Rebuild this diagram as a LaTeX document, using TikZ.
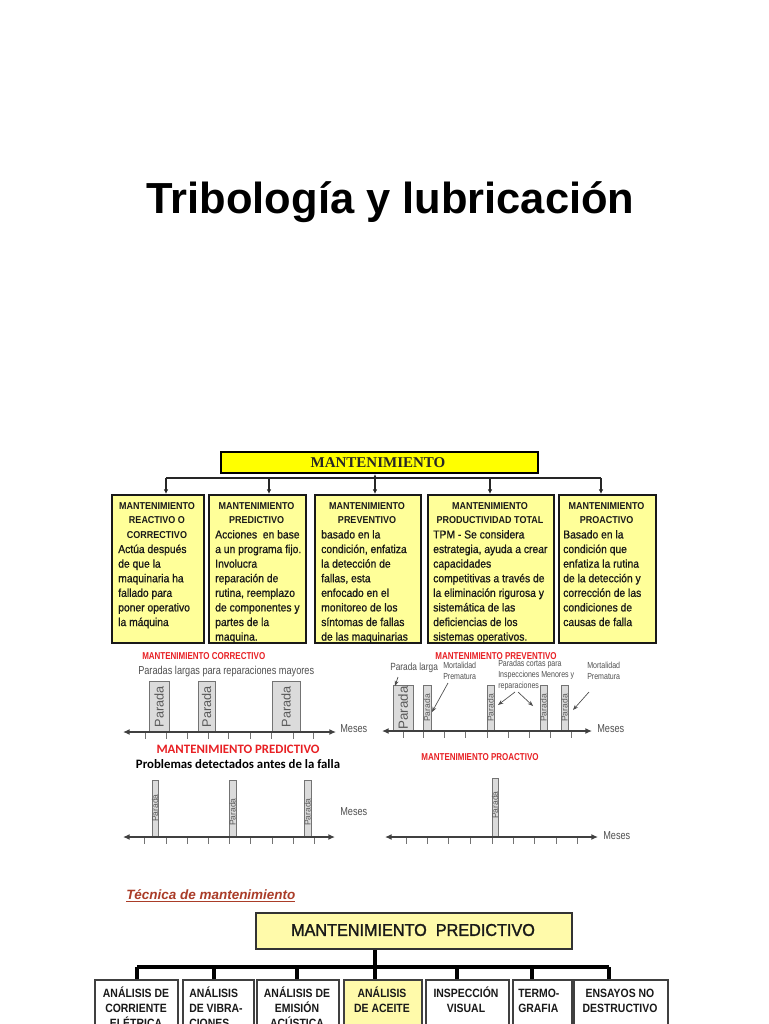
\documentclass[tikz,border=0pt]{standalone}
\usepackage{fontspec}
\usetikzlibrary{arrows.meta}
\setmainfont{Liberation Sans}
\newfontfamily\fA[FakeStretch=0.9]{Liberation Sans}
\newfontfamily\fAb[FakeStretch=0.9,FakeBold=0.9]{Liberation Sans}
\newfontfamily\fS[FakeStretch=0.8]{Liberation Sans}
\newfontfamily\fB[FakeStretch=0.87]{Liberation Sans}
\newfontfamily\fT{Liberation Sans}
\newfontfamily\fTb[FakeBold=1.6,FakeStretch=0.95]{Liberation Sans}
\newfontfamily\fC{Carlito}
\newfontfamily\fR{Liberation Serif}
\definecolor{yel}{RGB}{255,255,0}
\definecolor{ply}{RGB}{255,255,153}
\definecolor{ply2}{RGB}{255,250,170}
\definecolor{tred}{RGB}{232,32,36}
\definecolor{tbrown}{RGB}{170,60,40}
\definecolor{scan}{RGB}{80,80,80}
\tikzset{
 rbox/.style={draw=black!90, line width=1.6pt, fill=ply, inner sep=0, anchor=north west},
 hdr/.style={inner sep=0, anchor=north, align=center, font=\fA\bfseries\fontsize{7.5}{10.95}\selectfont, text=black!90},
 bdy/.style={inner sep=0, anchor=north west, align=left, font=\fAb\fontsize{8.6}{10.95}\selectfont, text=black!90},
 cbus/.style={draw=black!85, line width=1.5pt},
 cdrop/.style={draw=black!85, line width=1.5pt, -{Latex[length=3.5pt,width=3.5pt]}},
 redt/.style={inner sep=0, anchor=base, font=\fS\bfseries\fontsize{7.5}{9}\selectfont, text=tred},
 scanl/.style={inner sep=0, font=\fS\fontsize{8.6}{9}\selectfont, text=scan},
 smalls/.style={inner sep=0, anchor=north west, align=left, font=\fS\fontsize{6.6}{8.25}\selectfont, text=scan},
 axisl/.style={draw=black!75, line width=1.3pt, {Latex[length=5pt,width=4.5pt]}-{Latex[length=5pt,width=4.5pt]}},
 tickl/.style={draw=black!55, line width=0.6pt},
 barr/.style={draw=black!55, line width=0.6pt, fill=black!14},
 parl/.style={inner sep=0, rotate=90, text=black!65},
 parrow/.style={draw=black!70, line width=0.5pt, -{Stealth[length=4pt,width=3pt]}},
 bbox/.style={draw=black!75, line width=1.5pt, fill=white, inner sep=0, anchor=north west, minimum height=70*0.75pt},
 btxt/.style={inner sep=0, anchor=north, align=center, font=\fB\bfseries\fontsize{9}{11.25}\selectfont, text=black!90},
 tbus/.style={draw=black, line width=2.3pt}
}
\begin{document}
\begin{tikzpicture}[x=0.75pt,y=-0.75pt]
\clip (0,0) rectangle (768,1024);
\fill[white] (0,0) rectangle (768,1024);

% title
\node[inner sep=0, anchor=base, font=\fT\bfseries\fontsize{32.6}{36}\selectfont] (title) at (390.5,213) {Tribología y lubricación};

% ===== top chart =====
\node[draw=black, line width=1.5pt, fill=yel, inner sep=0, anchor=north west, minimum width=317*0.75pt, minimum height=21*0.75pt] (mtop) at (220,451) {};
\node[inner sep=0, font=\fR\bfseries\fontsize{11.25}{12}\selectfont, text=black!85] (mtopt) at (378,463) {MANTENIMIENTO};

\node[rbox, minimum width=92*0.75pt, minimum height=148*0.75pt] (r1) at (111,494) {};
\node[rbox, minimum width=97*0.75pt, minimum height=148*0.75pt] (r2) at (208,494) {};
\node[rbox, minimum width=106*0.75pt, minimum height=148*0.75pt] (r3) at (314,494) {};
\node[rbox, minimum width=126*0.75pt, minimum height=148*0.75pt] (r4) at (427,494) {};
\node[rbox, minimum width=97*0.75pt, minimum height=148*0.75pt] (r5) at (558,494) {};

\coordinate (busL) at (166,478);
\coordinate (busR) at (601,478);
\coordinate (d1) at (166,478);
\coordinate (d2) at (269,478);
\coordinate (d3) at (375,478);
\coordinate (d4) at (490,478);
\coordinate (d5) at (601,478);
\draw[cbus] (busL) -- (busR);
\draw[cdrop] (d3) -- (d3 |- mtop.south);
\draw[cdrop] (d1) -- (d1 |- r1.north);
\draw[cdrop] (d2) -- (d2 |- r2.north);
\draw[cdrop] (d3) -- (d3 |- r3.north);
\draw[cdrop] (d4) -- (d4 |- r4.north);
\draw[cdrop] (d5) -- (d5 |- r5.north);

\node[hdr] (h1) at (157,499) {\rule{0pt}{1em}MANTENIMIENTO\\REACTIVO O\\CORRECTIVO};
\node[bdy] (t1) at (118,541.3) {\rule{0pt}{1em}Actúa después\\de que la\\maquinaria ha\\fallado para\\poner operativo\\la máquina};
\node[hdr] (h2) at (256.5,499) {\rule{0pt}{1em}MANTENIMIENTO\\PREDICTIVO};
\node[bdy] (t2) at (215,526.7) {\rule{0pt}{1em}Acciones\ \ en base\\a un programa fijo.\\Involucra\\reparación de\\rutina, reemplazo\\de componentes y\\partes de la\\maquina.};
\node[hdr] (h3) at (367,499) {\rule{0pt}{1em}MANTENIMIENTO\\PREVENTIVO};
\node[bdy] (t3) at (321,526.7) {\rule{0pt}{1em}basado en la\\condición, enfatiza\\la detección de\\fallas, esta\\enfocado en el\\monitoreo de los\\síntomas de fallas\\de las maquinarias};
\node[hdr] (h4) at (490,499) {\rule{0pt}{1em}MANTENIMIENTO\\PRODUCTIVIDAD TOTAL};
\node[bdy] (t4) at (433,526.7) {\rule{0pt}{1em}TPM - Se considera\\estrategia, ayuda a crear\\capacidades\\competitivas a través de\\la eliminación rigurosa y\\sistemática de las\\deficiencias de los\\sistemas operativos.};
\node[hdr] (h5) at (606.5,499) {\rule{0pt}{1em}MANTENIMIENTO\\PROACTIVO};
\node[bdy] (t5) at (563,526.7) {\rule{0pt}{1em}Basado en la\\condición que\\enfatiza la rutina\\de la detección y\\corrección de las\\condiciones de\\causas de falla};

% ===== correctivo timeline =====
\node[redt, anchor=base west] (tc) at (142,659) {MANTENIMIENTO CORRECTIVO};
\node[scanl, anchor=base west] (tc2) at (138,674) {Paradas largas para reparaciones mayores};
\draw[barr] (149,681) rectangle (169,732);
\draw[barr] (198,681) rectangle (215,732);
\draw[barr] (272,681) rectangle (300,732);
\node[parl, font=\fT\fontsize{9.5}{9}\selectfont] (pc1) at (159,707) {Parada};
\node[parl, font=\fT\fontsize{9.5}{9}\selectfont] (pc2) at (206.5,707) {Parada};
\node[parl, font=\fT\fontsize{9.5}{9}\selectfont] (pc3) at (286,707) {Parada};
\foreach \x in {145,166,187,208,228,250,271,293,313} \draw[tickl] (\x,732) -- (\x,739);
\coordinate (ca1) at (123,732);
\coordinate (ca2) at (336,732);
\draw[axisl] (ca1) -- (ca2);
\node[scanl, anchor=west] (mc) at (340,729) {Meses};

% ===== predictivo timeline =====
\node[inner sep=0, anchor=base, font=\fC\bfseries\fontsize{9.6}{11}\selectfont, text=tred] (tp) at (238,753) {MANTENIMIENTO PREDICTIVO};
\node[inner sep=0, anchor=base, font=\fC\bfseries\fontsize{9.6}{11}\selectfont] (tp2) at (238,768) {Problemas detectados antes de la falla};
\draw[barr] (152,780) rectangle (158,837);
\draw[barr] (229,780) rectangle (236,837);
\draw[barr] (304,780) rectangle (311,837);
\node[parl, font=\fT\fontsize{6.4}{7}\selectfont] (pp1) at (155,808) {Parada};
\node[parl, font=\fT\fontsize{6.4}{7}\selectfont] (pp2) at (232.5,812) {Parada};
\node[parl, font=\fT\fontsize{6.4}{7}\selectfont] (pp3) at (307.5,812) {Parada};
\foreach \x in {144,166,187,208,229,250,272,293,314} \draw[tickl] (\x,837) -- (\x,844);
\coordinate (pa1) at (123,837);
\coordinate (pa2) at (335,837);
\draw[axisl] (pa1) -- (pa2);
\node[scanl, anchor=west] (mp1) at (340,812) {Meses};

% ===== preventivo timeline =====
\node[redt] (tv) at (496,659) {MANTENIMIENTO PREVENTIVO};
\node[scanl, font=\fS\fontsize{7.8}{9}\selectfont, anchor=base west] (pl) at (390,670) {Parada larga};
\node[smalls] (mo1) at (443,659) {\rule{0pt}{1em}Mortalidad\\Prematura};
\node[smalls] (pcor) at (498,657) {\rule{0pt}{1em}Paradas cortas para\\Inspecciones Menores y\\reparaciones};
\node[smalls] (mo2) at (587,659) {\rule{0pt}{1em}Mortalidad\\Prematura};
\draw[barr] (393,685) rectangle (413,731);
\draw[barr] (423,685) rectangle (431,731);
\draw[barr] (487,685) rectangle (494,731);
\draw[barr] (540,685) rectangle (547,731);
\draw[barr] (561,685) rectangle (568,731);
\node[parl, font=\fT\fontsize{10}{10}\selectfont] (pv1) at (403,708) {Parada};
\node[parl, font=\fT\fontsize{6.4}{7}\selectfont] (pv2) at (427,708) {Parada};
\node[parl, font=\fT\fontsize{6.4}{7}\selectfont] (pv3) at (490.5,708) {Parada};
\node[parl, font=\fT\fontsize{6.4}{7}\selectfont] (pv4) at (543.5,708) {Parada};
\node[parl, font=\fT\fontsize{6.4}{7}\selectfont] (pv5) at (564.5,708) {Parada};
\foreach \x in {403,423,444,465,487,508,529,550,571} \draw[tickl] (\x,731) -- (\x,738);
\coordinate (va1) at (382,731);
\coordinate (va2) at (592,731);
\draw[axisl] (va1) -- (va2);
\node[scanl, anchor=west] (mv) at (597,729) {Meses};
\coordinate (ar1s) at (398,677); \coordinate (ar1e) at (395,686);
\coordinate (ar2s) at (448,683); \coordinate (ar2e) at (432,712);
\coordinate (ar3s) at (515,692); \coordinate (ar3e) at (498,705);
\coordinate (ar4s) at (518,692); \coordinate (ar4e) at (533,706);
\coordinate (ar5s) at (589,692); \coordinate (ar5e) at (573,710);
\draw[parrow] (ar1s) -- (ar1e);
\draw[parrow] (ar2s) -- (ar2e);
\draw[parrow] (ar3s) -- (ar3e);
\draw[parrow] (ar4s) -- (ar4e);
\draw[parrow] (ar5s) -- (ar5e);

% ===== proactivo timeline =====
\node[redt] (tpa) at (480,760) {MANTENIMIENTO PROACTIVO};
\draw[barr] (492,778) rectangle (498,837);
\node[parl, font=\fT\fontsize{6.4}{7}\selectfont] (pa) at (495,805) {Parada};
\foreach \x in {406,427,448,470,492,513,534,556,577} \draw[tickl] (\x,837) -- (\x,844);
\coordinate (qa1) at (385,837);
\coordinate (qa2) at (598,837);
\draw[axisl] (qa1) -- (qa2);
\node[scanl, anchor=west] (mq) at (603,836) {Meses};

% ===== bottom chart =====
\node[inner sep=0, anchor=base west, font=\fT\bfseries\itshape\fontsize{10.1}{12}\selectfont, text=tbrown] (tec) at (126,899) {\underline{Técnica de mantenimiento}};
\node[draw=black!80, line width=1.5pt, fill=ply2, inner sep=0, anchor=north west, minimum width=316*0.75pt, minimum height=36*0.75pt] (mp) at (255,912) {};
\node[inner sep=0, font=\fTb\fontsize{12.8}{14}\selectfont, text=black!90] (mpt) at (413,930) {MANTENIMIENTO\ \ PREDICTIVO};

\node[bbox, minimum width=83*0.75pt] (b1) at (94,979) {};
\node[bbox, minimum width=71*0.75pt] (b2) at (182,979) {};
\node[bbox, minimum width=82*0.75pt] (b3) at (256,979) {};
\node[bbox, minimum width=78*0.75pt, fill=ply2] (b4) at (343,979) {};
\node[bbox, minimum width=83*0.75pt] (b5) at (425,979) {};
\node[bbox, minimum width=59*0.75pt] (b6) at (512,979) {};
\node[bbox, minimum width=94*0.75pt] (b7) at (573,979) {};

\coordinate (e0) at (375,967);
\coordinate (e1) at (137,967);
\coordinate (e2) at (214,967);
\coordinate (e3) at (297,967);
\coordinate (e5) at (457,967);
\coordinate (e6) at (532,967);
\coordinate (e7) at (609,967);
\draw[tbus] (e0 |- mp.south) -- (e0);
\draw[tbus] (e1) -- (e7);
\draw[tbus] (e1) -- (e1 |- b1.north);
\draw[tbus] (e2) -- (e2 |- b2.north);
\draw[tbus] (e3) -- (e3 |- b3.north);
\draw[tbus] (e0) -- (e0 |- b4.north);
\draw[tbus] (e5) -- (e5 |- b5.north);
\draw[tbus] (e6) -- (e6 |- b6.north);
\draw[tbus] (e7) -- (e7 |- b7.north);

\node[btxt] (bt1) at (136,985) {\rule{0pt}{1em}ANÁLISIS DE\\CORRIENTE\\ELÉTRICA};
\node[btxt, anchor=north west, align=left] (bt2) at (189,985) {\rule{0pt}{1em}ANÁLISIS\\DE VIBRA-\\CIONES};
\node[btxt] (bt3) at (297,985) {\rule{0pt}{1em}ANÁLISIS DE\\EMISIÓN\\ACÚSTICA};
\node[btxt] (bt4) at (382,985) {\rule{0pt}{1em}ANÁLISIS\\DE ACEITE};
\node[btxt] (bt5) at (466,985) {\rule{0pt}{1em}INSPECCIÓN\\VISUAL};
\node[btxt, anchor=north west, align=left] (bt6) at (518,985) {\rule{0pt}{1em}TERMO-\\GRAFIA};
\node[btxt] (bt7) at (620,985) {\rule{0pt}{1em}ENSAYOS NO\\DESTRUCTIVO};
\end{tikzpicture}
\end{document}
